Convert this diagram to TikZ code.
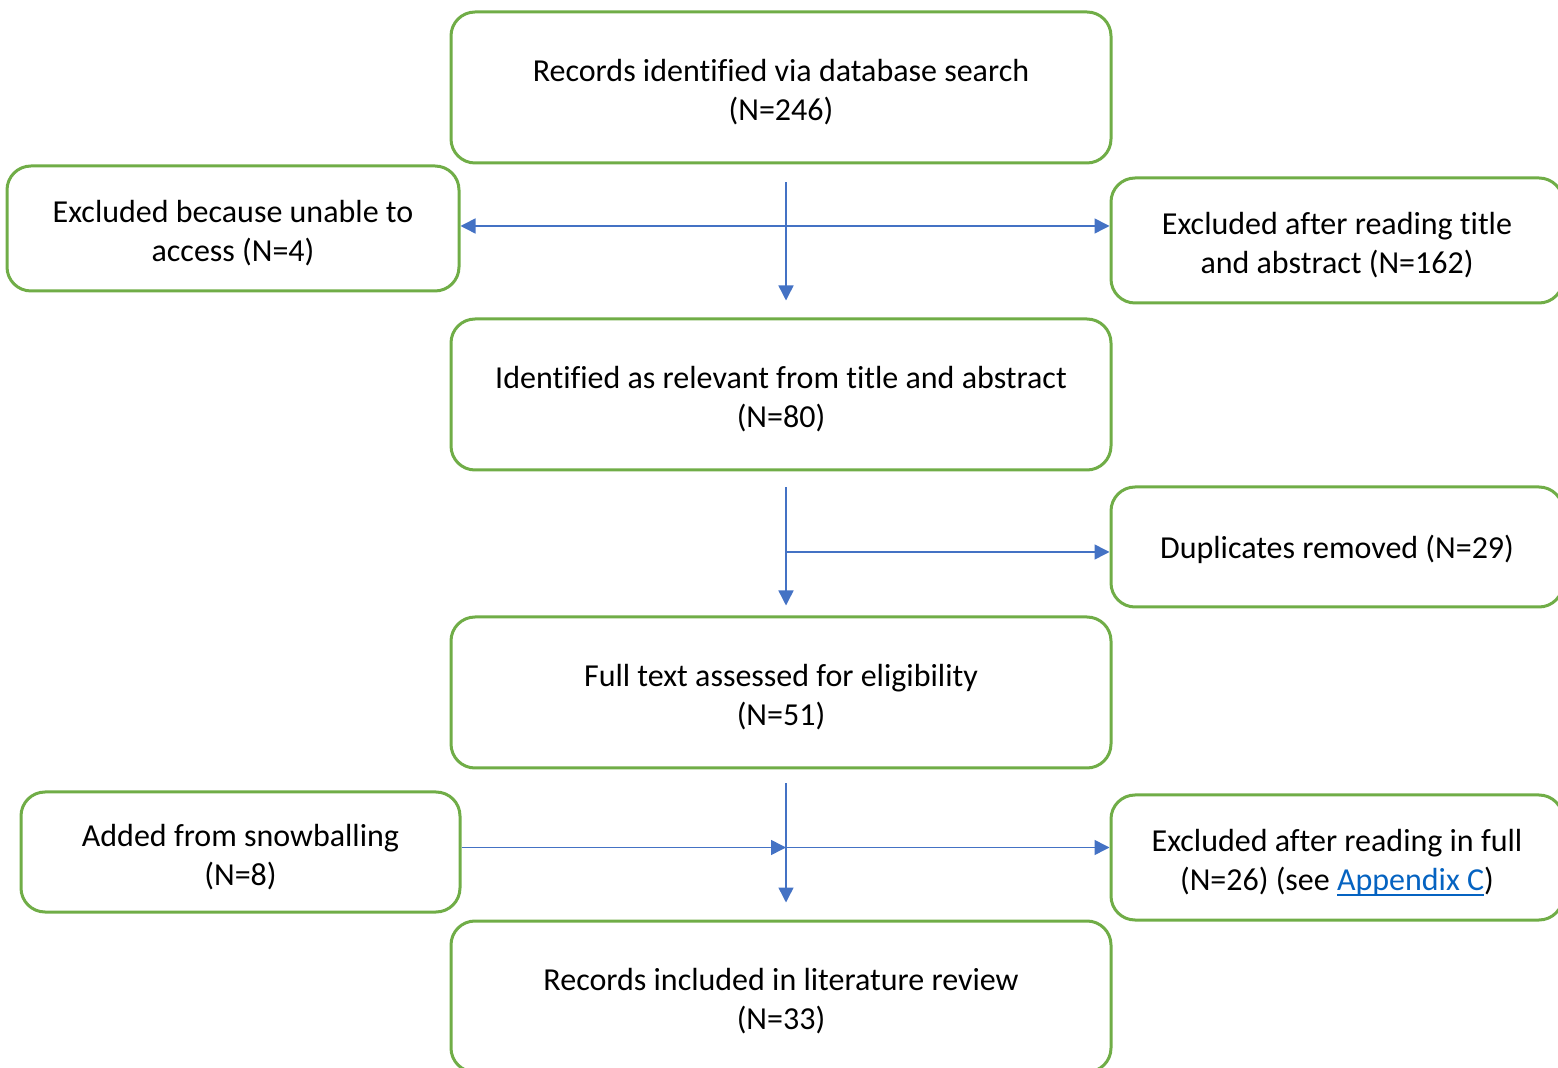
\documentclass[tikz,border=0pt]{standalone}
\usepackage{fontspec}
\setmainfont{Carlito}[Ligatures=NoCommon]
\usetikzlibrary{arrows.meta}

\definecolor{boxgreen}{HTML}{70AD47}
\definecolor{arrowblue}{HTML}{4472C4}
\definecolor{linkblue}{HTML}{0563C1}

% Underlined link text in the link colour.
\newcommand{\linktext}[1]{{\color{linkblue}\setbox0\hbox{#1}%
  \rlap{\rule[-2.6pt]{\wd0}{0.9pt}}\box0}}

\tikzset{
  stage/.style={draw=boxgreen, line width=1.5pt, rounded corners=12pt,
    align=center, font=\fontsize{16}{19.5}\selectfont, inner sep=0pt,
    text height=35.5pt},
  wide/.style={stage, minimum width=330pt, minimum height=75.5pt},
  side/.style={stage, minimum width=226pt, minimum height=62.5pt},
  flow/.style={draw=arrowblue, line width=0.75pt,
    -{Triangle[length=7.5pt,width=7.5pt]}},
}

\begin{document}
\begin{tikzpicture}[x=0.5pt,y=-0.5pt]
  % Page frame: 1558 x 1068 units.
  \useasboundingbox (0,0) rectangle (1558,1068);

  % Main column.
  \node[wide] (search) at (781,87.5) {Records identified via database search\\(N=246)};
  \node[wide] (relevant) at (781,394.5) {Identified as relevant from title and abstract\\(N=80)};
  \node[wide] (fulltext) at (781,692.5) {Full text assessed for eligibility\\(N=51)};
  \node[wide] (included) at (781,996.5) {Records included in literature review\\(N=33)};

  % Side boxes.
  \node[side] (noaccess) at (233,228.5) {Excluded because unable to\\access (N=4)};
  \node[side] (abstract) at (1337,240.5) {Excluded after reading title\\and abstract (N=162)};
  \node[side, minimum height=60pt, text height=13.7pt] (dupes) at (1337,547) {Duplicates removed (N=29)};
  \node[side, minimum width=219.5pt, minimum height=60pt] (snowball) at (240.5,852) {Added from snowballing\\(N=8)};
  \node[side] (fullread) at (1337,857.5) {Excluded after reading in full\\(N=26) (see \linktext{Appendix C})};

  % Junctions on the vertical flow.
  \coordinate (j1) at (786,226);
  \coordinate (j2) at (786,552);
  \coordinate (j3) at (786,847.5);

  % First step.
  \draw[flow, shorten <=9pt, shorten >=8.5pt] ([xshift=2.5pt]search.south) -- ([xshift=2.5pt]relevant.north);
  \draw[flow] (j1) -- (j1 -| noaccess.east);
  \draw[flow] (j1) -- (j1 -| abstract.west);

  % Second step.
  \draw[flow, shorten <=8pt, shorten >=5pt] ([xshift=2.5pt]relevant.south) -- ([xshift=2.5pt]fulltext.north);
  \draw[flow] (j2) -- (j2 -| dupes.west);

  % Third step.
  \draw[flow, shorten <=7pt, shorten >=8.5pt] ([xshift=2.5pt]fulltext.south) -- ([xshift=2.5pt]included.north);
  \draw[flow] (snowball.east |- j3) -- (j3);
  \draw[flow] (j3) -- (j3 -| fullread.west);
\end{tikzpicture}
\end{document}
